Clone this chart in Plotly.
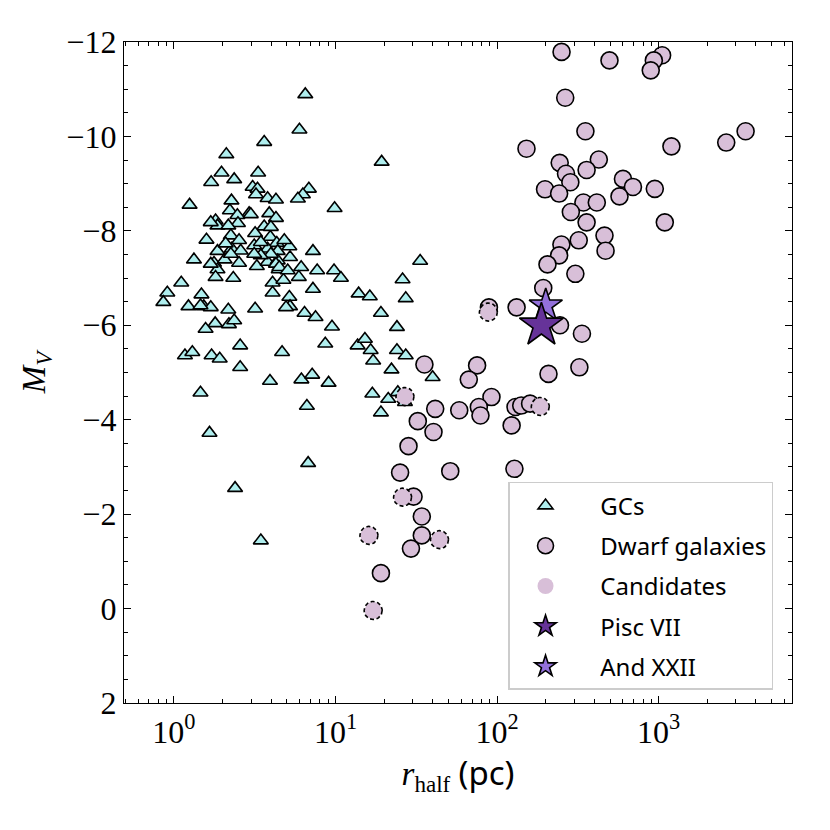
import math
import plotly.graph_objects as go

# ---------------- data ----------------
gc_r = [6.5, 5.98, 3.62, 19.3, 2.11, 1.97, 3.32, 2.36, 1.70, 3.07, 3.29, 3.22, 3.80, 4.28,
        6.84, 6.28, 5.85, 1.25, 2.27, 9.87, 2.22, 2.92, 3.89, 4.28, 2.47, 1.81, 1.86, 2.49,
        2.17, 3.62, 3.18, 2.25, 1.59, 3.95, 5.18, 7.25, 4.33, 1.86, 2.28, 2.59, 3.14, 3.80,
        4.39, 1.33, 2.06, 1.77, 2.53, 3.26, 3.80, 5.23, 4.39, 1.86, 4.45, 6.13, 7.70, 9.79,
        33.4, 1.81, 2.33, 5.93, 10.8, 26.0, 1.11, 4.08, 4.76, 0.91, 1.48, 4.08, 5.18, 7.25,
        13.9, 16.3, 27.2, 0.86, 1.23, 1.53, 1.69, 2.17, 3.18, 5.23, 6.43, 7.52, 19.1, 1.80,
        1.57, 2.19, 2.36, 9.51, 24.0,
        1.17, 1.30, 1.71, 1.92, 2.57, 2.57, 4.67, 8.64, 1.46, 3.93, 6.15, 7.17, 9.06, 6.65,
        1.66, 6.77, 2.39, 3.45, 13.7, 15.2, 16.5, 17.1, 24.0, 27.2, 22.2, 16.9, 21.2, 19.1,
        24.3, 39.9, 26.9,
        2.99, 4.28, 4.94, 1.46, 3.98, 3.45, 2.25, 1.69, 4.49, 5.06, 1.69, 3.98, 3.45, 2.53,
        2.09, 3.14, 4.82]
gc_mv = [-10.89, -10.14, -9.88, -9.46, -9.62, -9.23, -9.23, -9.09, -9.03, -8.93, -8.89, -8.77,
         -8.69, -8.66, -8.89, -8.77, -8.68, -8.55, -8.64, -8.48, -8.43, -8.37, -8.37, -8.27,
         -8.33, -8.22, -8.11, -8.16, -8.11, -8.09, -7.95, -7.90, -7.81, -7.87, -7.67, -7.57,
         -7.74, -7.57, -7.62, -7.58, -7.69, -7.62, -7.57, -7.39, -7.39, -7.32, -7.32, -7.25,
         -7.34, -7.44, -7.37, -7.18, -7.18, -7.23, -7.16, -7.16, -7.36, -7.02, -7.00, -7.02,
         -7.00, -6.97, -6.90, -6.90, -6.96, -6.69, -6.65, -6.69, -6.60, -6.77, -6.67, -6.61,
         -6.57, -6.49, -6.40, -6.40, -6.38, -6.33, -6.35, -6.40, -6.26, -6.17, -6.26, -6.04,
         -5.92, -6.02, -6.10, -5.97, -5.96,
         -5.36, -5.43, -5.36, -5.29, -5.57, -5.11, -5.43, -5.61, -4.57, -4.82, -4.85, -4.95,
         -4.78, -4.29, -3.72, -3.08, -2.55, -1.44, -5.57, -5.71, -5.47, -5.25, -5.47, -5.36,
         -5.06, -4.55, -4.44, -4.15, -4.58, -4.90, -4.37,
         -8.35, -7.30, -6.38, -6.42, -7.51, -7.48, -7.51, -7.30, -7.23, -7.16, -8.18, -8.08,
         -7.76, -7.80, -7.73, -7.51, -7.80]

dw_r = [250.5, 496, 1050, 933, 893, 264, 352, 3450, 2618, 152, 1199, 244, 426, 358, 267, 284,
        601, 693, 946, 198, 242, 572, 342, 414, 286, 358, 1091, 462, 469, 320, 250, 242, 205,
        305, 193, 132, 89, 245, 335, 323, 208, 35.5, 75.2, 66.8, 92.3, 77.1, 78.9, 58.3, 41.4,
        32.3, 40.4, 28.3, 25.1, 51.3, 128, 123, 130, 141, 160, 30.4, 34.2, 34.2, 29.3, 19.1]
dw_mv = [-11.79, -11.61, -11.72, -11.61, -11.40, -10.82, -10.11, -10.11, -9.87, -9.74, -9.79,
         -9.44, -9.51, -9.29, -9.21, -9.03, -9.10, -8.93, -8.89, -8.88, -8.79, -8.73, -8.60,
         -8.60, -8.40, -8.18, -8.18, -7.90, -7.58, -7.80, -7.71, -7.48, -7.29, -7.09, -6.79,
         -6.38, -6.38, -6.00, -5.82, -5.11, -4.97, -5.17, -5.15, -4.85, -4.48, -4.27, -4.09,
         -4.20, -4.23, -3.97, -3.74, -3.44, -2.88, -2.91, -2.96, -3.88, -4.27, -4.30, -4.34,
         -2.37, -1.95, -1.55, -1.27, -0.75]

cand_r = [26.9, 16.1, 26.0, 44.0, 17.1, 88.3, 185]
cand_mv = [-4.49, -1.55, -2.36, -1.46, 0.04, -6.28, -4.28]

pisc_r = [188]
pisc_mv = [-6.0]
and_r = [200]
and_mv = [-6.42]

x_tick_vals = [1, 10, 100, 1000]
x_tick_text = ["10<sup>0</sup>", "10<sup>1</sup>", "10<sup>2</sup>", "10<sup>3</sup>"]
x_minor_vals = [k * 10 ** n for n in range(-1, 4) for k in range(2, 10)]

series_names = ["GCs", "Dwarf galaxies", "Candidates", "Pisc VII", "And XXII"]

# ---------------- layout geometry ----------------
FIG_W, FIG_H = 822, 822          # page body adds an 8px offset
M_L, M_R, M_T, M_B = 116, 38, 34, 127
X_RANGE = [-0.309, 3.825]        # log10 units
Y_RANGE = [2, -12]
plot_w = FIG_W - M_L - M_R
plot_h = FIG_H - M_T - M_B
px_per_decade = plot_w / (X_RANGE[1] - X_RANGE[0])
px_per_mag = plot_h / abs(Y_RANGE[1] - Y_RANGE[0])

pad = "\u00a0\u00a0\u00a0"

# ---------------- figure ----------------
fig = go.Figure()

fig.add_trace(go.Scatter(
    x=gc_r, y=gc_mv, mode="markers", name=pad + series_names[0],
    legendgroup="g1", legendrank=1,
    marker=dict(symbol="triangle-up", size=13, color="#afeeee",
                line=dict(color="black", width=1.6))))

fig.add_trace(go.Scatter(
    x=dw_r, y=dw_mv, mode="markers", name=pad + series_names[1],
    legendgroup="g2", legendrank=2,
    marker=dict(symbol="circle", size=17, color="#d8bfd8",
                line=dict(color="black", width=1.6))))

fig.add_trace(go.Scatter(
    x=cand_r, y=cand_mv, mode="markers", name=pad + series_names[2],
    legendgroup="g3", legendrank=3,
    marker=dict(symbol="circle", size=17, color="#d8bfd8",
                line=dict(color="black", width=0))))

# dashed outline around each candidate marker (9 px radius on screen)
ring_x, ring_y = [], []
n_seg = 48
for rr, mm in zip(cand_r, cand_mv):
    for k in range(n_seg + 1):
        t = 2 * math.pi * k / n_seg
        ring_x.append(rr * 10 ** (9 * math.cos(t) / px_per_decade))
        ring_y.append(mm + 9 * math.sin(t) / px_per_mag)
    ring_x.append(None)
    ring_y.append(None)
fig.add_trace(go.Scatter(
    x=ring_x, y=ring_y, mode="lines", showlegend=False, hoverinfo="skip",
    legendgroup="g3",
    line=dict(color="black", width=1.6, dash="4px,2.6px")))

fig.add_trace(go.Scatter(
    x=and_r, y=and_mv, mode="markers", name=pad + series_names[4],
    legendgroup="g5", legendrank=5,
    marker=dict(symbol="star", size=25, color="#9370db",
                line=dict(color="black", width=1.6))))

fig.add_trace(go.Scatter(
    x=pisc_r, y=pisc_mv, mode="markers", name=pad + series_names[3],
    legendgroup="g4", legendrank=4,
    marker=dict(symbol="star", size=33, color="#663399",
                line=dict(color="black", width=1.6))))

tickfont = dict(family="Liberation Serif", size=32, color="black")

fig.update_layout(
    width=FIG_W, height=FIG_H,
    margin=dict(l=M_L, r=M_R, t=M_T, b=M_B),
    paper_bgcolor="white", plot_bgcolor="white",
    showlegend=True,
    legend=dict(x=0.9716, y=0.0197, xanchor="right", yanchor="bottom",
                bgcolor="white", bordercolor="#cccccc", borderwidth=1.5,
                font=dict(family="Noto Sans", size=24, color="black"),
                itemwidth=62, tracegroupgap=6),
    xaxis=dict(type="log", range=X_RANGE, automargin=False,
               tickvals=x_tick_vals, ticktext=x_tick_text,
               ticks="inside", ticklen=7, tickwidth=1.2, tickcolor="black",
               minor=dict(tickvals=x_minor_vals, ticks="inside", ticklen=4,
                          tickwidth=1, tickcolor="black", showgrid=False),
               showline=True, linecolor="black", linewidth=1.4, mirror="ticks",
               showgrid=False, zeroline=False, tickfont=tickfont,
               title=dict(text="<i>r</i><sub>half</sub> <span style='font-family:Noto Sans'>(pc)</span>",
                          font=dict(family="Liberation Serif", size=33, color="black"),
                          standoff=6)),
    yaxis=dict(range=Y_RANGE, tick0=0, dtick=2, automargin=False,
               ticks="inside", ticklen=7, tickwidth=1.2, tickcolor="black",
               minor=dict(dtick=0.5, ticks="inside", ticklen=4,
                          tickwidth=1, tickcolor="black", showgrid=False),
               showline=True, linecolor="black", linewidth=1.4, mirror="ticks",
               showgrid=False, zeroline=False, tickfont=tickfont,
               title=dict(text="<i>M</i><sub><i>V</i></sub>",
                          font=dict(family="Liberation Serif", size=33, color="black"),
                          standoff=10)),
)

fig.write_html("out.html")
